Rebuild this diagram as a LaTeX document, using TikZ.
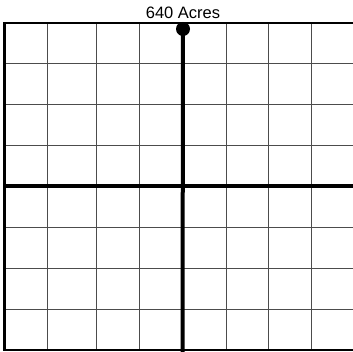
\documentclass[tikz,border=0pt]{standalone}
\usepackage{fontspec}
\setmainfont{Liberation Sans}
\begin{document}
\begin{tikzpicture}[x=1pt,y=-1pt,
  gridline/.style={line width=0.9pt,black!70},
  frame/.style={line width=2.2pt,black},
  axis/.style={line width=4pt,black},
  title/.style={font=\fontsize{16.5}{18}\selectfont,anchor=base,inner sep=0pt}]
\useasboundingbox (0,0) rectangle (353,352);
% thin grid lines
\foreach \x in {47,96,139,226,268,311}
  \draw[gridline] (\x,23) -- (\x,350);
\foreach \y in {63,104,145,227,268,309}
  \draw[gridline] (4,\y) -- (353,\y);
% frame
\draw[frame] (353,23) -- (4.5,23) -- (4.5,350) -- (353,350);
% axes
\node[circle,fill=black,minimum size=14pt,inner sep=0pt] (dot) at (183,29) {};
\coordinate (bot) at (182.5,352);
\coordinate (left) at (4,186);
\coordinate (right) at (353,186);
\draw[axis] (dot.center) -- (bot);
\draw[axis] (left) -- (right);
\node[title] (t) at (183,19) {640 Acres};
\end{tikzpicture}
\end{document}
